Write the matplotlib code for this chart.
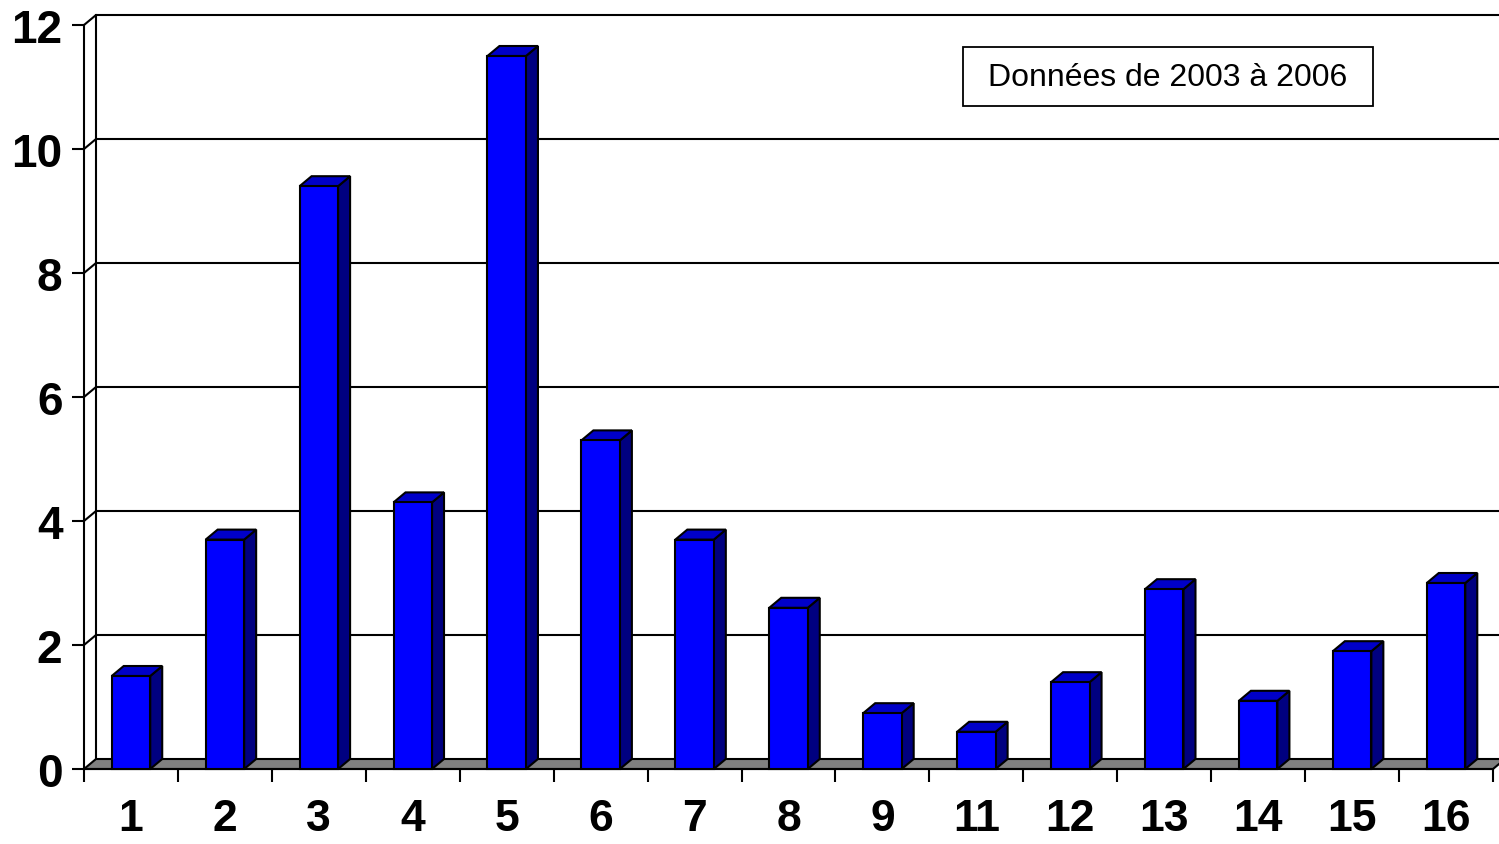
import matplotlib.pyplot as plt
from matplotlib.patches import Polygon, Rectangle

categories = ['1', '2', '3', '4', '5', '6', '7', '8', '9', '11', '12', '13', '14', '15', '16']
values = [1.5, 3.7, 9.4, 4.3, 11.5, 5.3, 3.7, 2.6, 0.9, 0.6, 1.4, 2.9, 1.1, 1.9, 3.0]
yticks = [0, 2, 4, 6, 8, 10, 12]
legend_text = 'Données de 2003 à 2006'

W, H = 1499, 845
fig = plt.figure(figsize=(W / 100, H / 100), dpi=100)

# axes in pixels: front x axis from 84 to 1493, zero at y=770, 62 px per unit
left_px, zero_px = 84, 770
px_cat = (1493 - 84) / 15
px_unit = 62
ax = fig.add_axes([left_px / W, (H - zero_px) / H, (W - left_px) / W, zero_px / H])
ax.set_xlim(0, (W - left_px) / px_cat)
ax.set_ylim(0, zero_px / px_unit)
for s in ax.spines.values():
    s.set_visible(False)

dx = 12 / px_cat
dy = 10 / px_unit
n = len(categories)
lw = 1.5

# back wall gridlines and side wall
xmax = ax.get_xlim()[1]
for t in yticks[1:]:
    ax.plot([0, dx, xmax], [t, t + dy, t + dy], color='black', lw=lw, clip_on=False, zorder=1)
ax.plot([dx, dx], [dy, 12 + dy], color='black', lw=lw, clip_on=False, zorder=1)
ax.plot([0, 0], [0, 12], color='black', lw=lw, clip_on=False, zorder=1)

# floor
floor = Polygon([[0, 0], [n, 0], [n + dx, dy], [dx, dy]], closed=True,
                facecolor='#808080', edgecolor='black', lw=lw, clip_on=False, zorder=2)
ax.add_patch(floor)
ax.plot([0, n], [0, 0], color='black', lw=lw, clip_on=False, zorder=2)

# bars
width = 0.41
xc = [i + 0.5 for i in range(n)]
ax.bar(xc, values, width=width, color='#0000ff', edgecolor='black', lw=lw, zorder=4, clip_on=False)
for x, v in zip(xc, values):
    x0, x1 = x - width / 2, x + width / 2
    side = Polygon([[x1, 0], [x1 + dx, dy], [x1 + dx, v + dy], [x1, v]], closed=True,
                   facecolor='#000080', edgecolor='black', lw=lw, zorder=3, clip_on=False)
    top = Polygon([[x0, v], [x1, v], [x1 + dx, v + dy], [x0 + dx, v + dy]], closed=True,
                  facecolor='#0000c8', edgecolor='black', lw=lw, zorder=3, clip_on=False)
    ax.add_patch(side)
    ax.add_patch(top)

# ticks
ax.set_yticks(yticks)
ax.set_yticklabels([str(t) for t in yticks], fontsize=33, fontweight='bold', family='Liberation Sans')
ax.tick_params(axis='y', length=9, width=lw, pad=6.5)
ax.set_xticks(range(n + 1))
ax.set_xticklabels([])
ax.set_xticks(xc, minor=True)
ax.set_xticklabels(categories, minor=True, fontsize=32, fontweight='bold', family='Liberation Sans')
ax.tick_params(axis='x', which='major', length=9, width=lw)
ax.tick_params(axis='x', which='minor', length=0, pad=21)

# legend-like text box
bx0, bx1, by0, by1 = 963, 1373, 48, 107
box = Rectangle(((bx0 - left_px) / px_cat, (zero_px - by1) / px_unit),
                (bx1 - bx0) / px_cat, (by1 - by0) / px_unit,
                facecolor='white', edgecolor='black', lw=1.3, zorder=5, clip_on=False)
ax.add_patch(box)
ax.text(((bx0 + bx1) / 2 - left_px) / px_cat, (zero_px - 78) / px_unit, legend_text, fontsize=23,
        family='Liberation Sans', ha='center', va='center', zorder=6)

fig.savefig('out.png', dpi=100)
